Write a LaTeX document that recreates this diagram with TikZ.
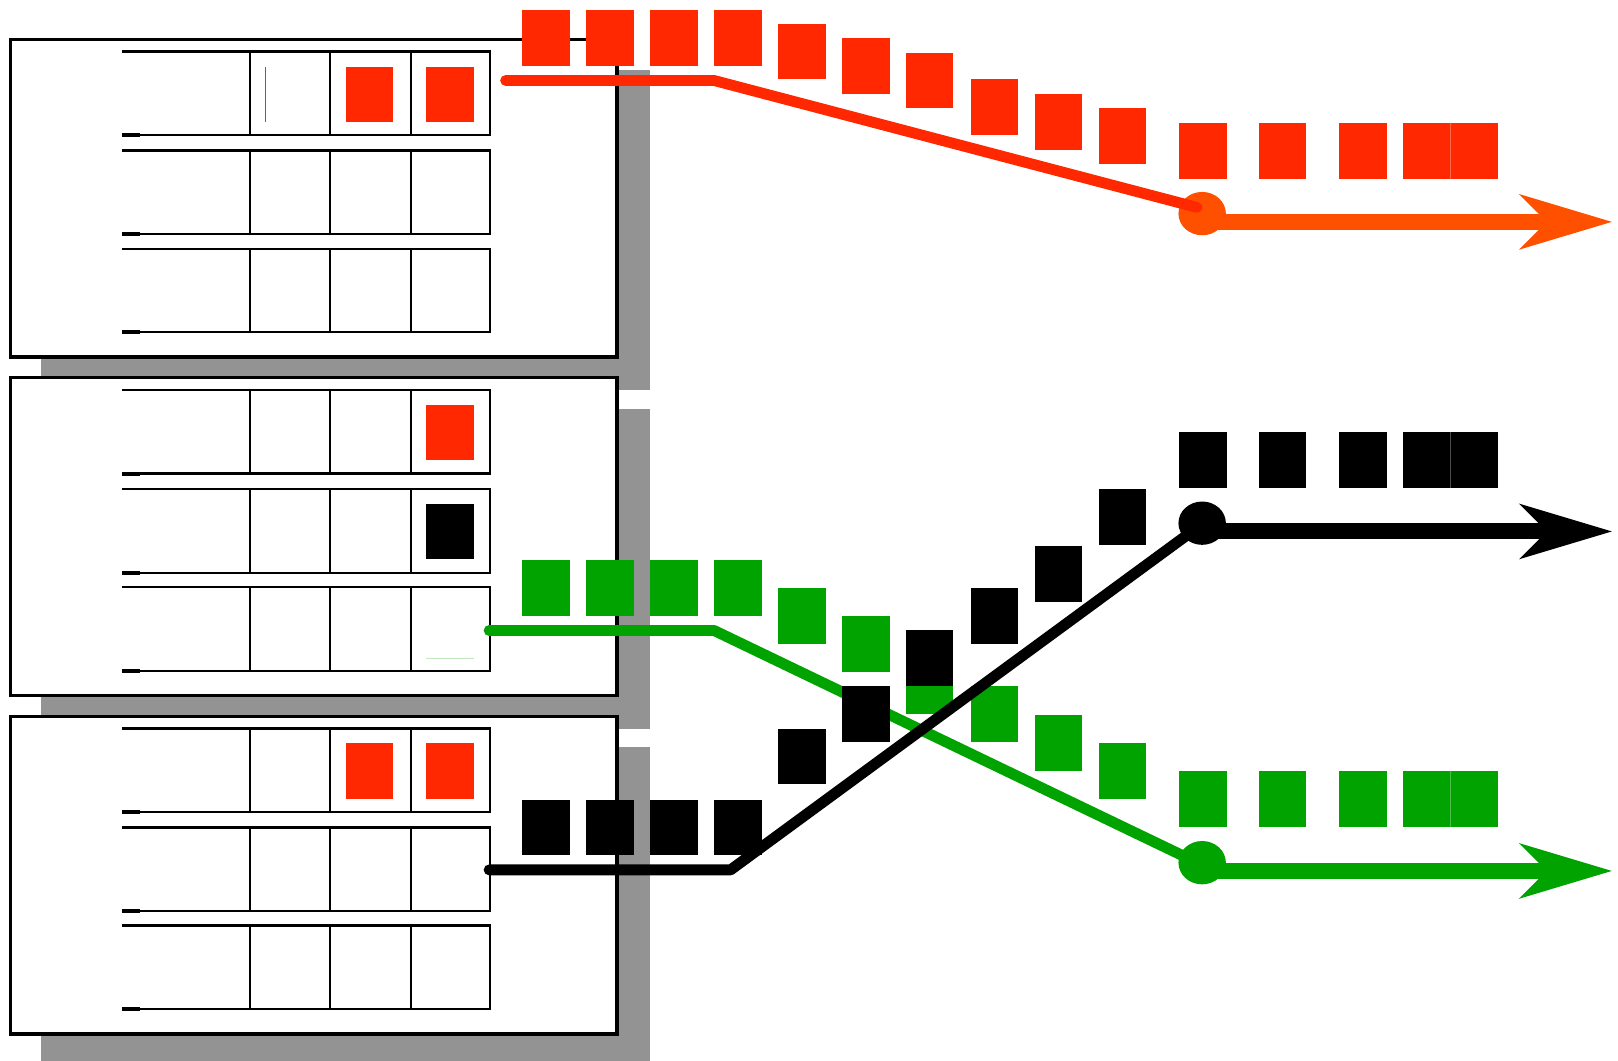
\documentclass[tikz,border=0pt]{standalone}
\usetikzlibrary{shapes.geometric}
\definecolor{cred}{RGB}{255,40,0}
\definecolor{corange}{RGB}{255,80,0}
\definecolor{cgreen}{RGB}{0,163,0}
\definecolor{cgray}{RGB}{147,147,147}
\newcommand{\sqr}[3]{\fill[#3] (#1,#2) rectangle +(46,54);}
\newcommand{\tipat}[2]{\fill[#2] (#1) -- ++(-90,-27) -- ++(27,27) -- ++(-27,27) -- cycle;}
\begin{document}
\begin{tikzpicture}[x=0.02cm,y=-0.02cm,
  trayline/.style={draw=black,line width=1.3pt},
  boxframe/.style={draw=black,fill=white,line width=1.8pt},
  shadowbox/.style={fill=cgray},
  flow/.style={line width=6pt,line cap=round,line join=round},
  outarrow/.style={line width=8.8pt},
  seam/.style={line width=0.4pt},
  dotnode/.style={ellipse,inner sep=0pt,minimum width=0.92cm,minimum height=0.84cm},
  tray/.pic={
    \draw[trayline] (0,0) -- (357,0) -- (357,81) -- (0,81);
    \foreach \u in {124,202,280} \draw[trayline] (\u,0) -- (\u,81);
    \draw[line width=2.1pt] (0,81) -- (18,81);
  }]
\useasboundingbox (0,0) rectangle (1568,1028);
% boxes with shadows
\foreach \t in {38,366,694}{
  \fill[shadowbox] (40,\t+30) rectangle (630,{min(\t+340,1028)});
  \draw[boxframe] (10,\t) rectangle (598,\t+308);
  \foreach \o in {12,108,203} \pic at (118,\t+\o) {tray};
}
% cell contents
\fill[cred] (335,65) rectangle +(46,53);
\fill[cred] (413,65) rectangle +(46,53);
\draw[cred,line width=0.3pt] (257,65) -- (257,118);
\fill[cred] (413,392) rectangle +(46,54);
\fill[black] (413,488) rectangle +(46,54);
\draw[cgreen!25,line width=0.5pt] (413,638) -- (459,638);
\fill[cred] (335,720) rectangle +(46,54);
\fill[cred] (413,720) rectangle +(46,54);
% coordinates
\coordinate (rS) at (490,78);
\coordinate (rK) at (692,78);
\coordinate (rE) at (1160,201);
\coordinate (rA) at (1165,215);
\coordinate (rN) at (1499,215);
\coordinate (rT) at (1562,215);
\coordinate (kS) at (474,843);
\coordinate (kK) at (708,843);
\coordinate (kE) at (1162,510);
\coordinate (kA) at (1165,515);
\coordinate (kN) at (1499,515);
\coordinate (kT) at (1562,515);
\coordinate (gS) at (474,611);
\coordinate (gK) at (692,611);
\coordinate (gE) at (1152,832);
\coordinate (gA) at (1165,844);
\coordinate (gN) at (1499,844);
\coordinate (gT) at (1562,844);
% green stream
\foreach \x/\y in {506/543,568/543,630/543,692/543,754/570,816/597,878/638,941/665,1003/693,1065/720,1143/747,1220/747,1298/747,1360/747,1406/747}
  \sqr{\x}{\y}{cgreen}
\draw[seam,cgreen!70!white] (1406,747) -- (1406,801);
\draw[flow,cgreen] (gS) -- (gK) -- (gE);
\draw[outarrow,cgreen] (gA) -- (gN);
\tipat{gT}{cgreen}
\node[dotnode,fill=cgreen] (gC) at (1165,836) {};
% black stream
\foreach \x/\y in {506/775,568/775,630/775,692/775,754/706,816/665,878/611,941/570,1003/529,1065/474,1143/419,1220/419,1298/419,1360/419,1406/419}
  \sqr{\x}{\y}{black}
\draw[seam,black!70!white] (1406,419) -- (1406,473);
\draw[flow,black] (kS) -- (kK) -- (kE);
\draw[outarrow,black] (kA) -- (kN);
\tipat{kT}{black}
\node[dotnode,fill=black] (kC) at (1165,507) {};
% red stream
\foreach \x/\y in {506/10,568/10,630/10,692/10,754/23,816/37,878/51,941/77,1003/91,1065/105,1143/119,1220/119,1298/119,1360/119,1406/119}
  \sqr{\x}{\y}{cred}
\draw[seam,cred!70!white] (1406,119) -- (1406,173);
\draw[outarrow,corange] (rA) -- (rN);
\tipat{rT}{corange}
\node[dotnode,fill=corange] (rC) at (1165,207) {};
\draw[flow,cred] (rS) -- (rK) -- (rE);
\end{tikzpicture}
\end{document}
